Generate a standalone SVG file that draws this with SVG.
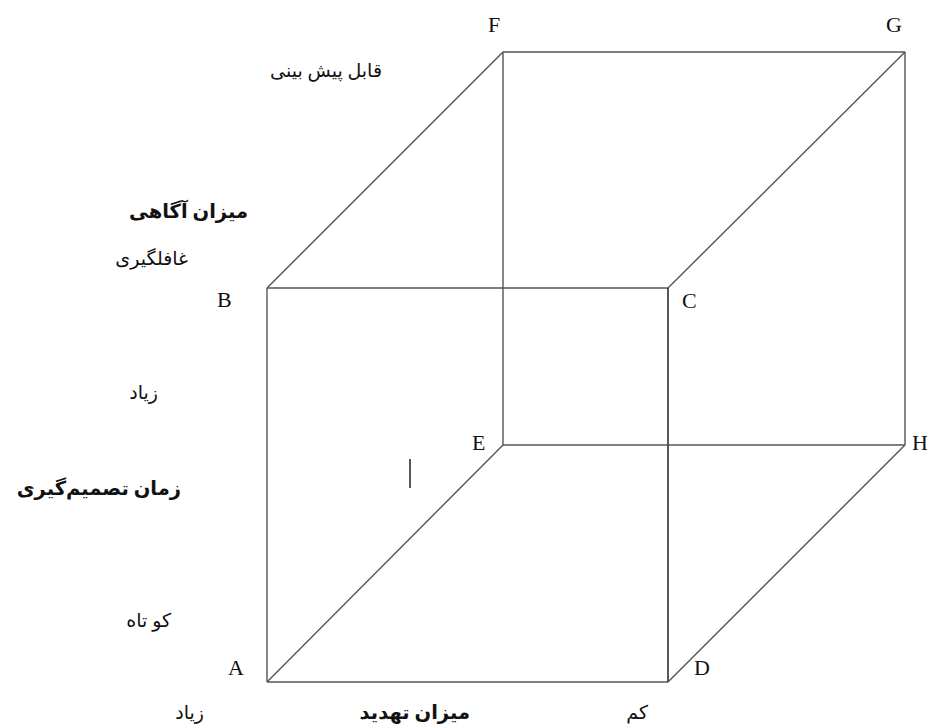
<svg xmlns="http://www.w3.org/2000/svg" width="936" height="725" viewBox="0 0 936 725">
<style>
.e{stroke:#555;stroke-width:1.4;fill:none}
.k{stroke:#111;stroke-width:1.4;fill:none}
.l{font-family:"Liberation Serif","Times New Roman",serif;font-size:22px;fill:#111}
.p{font-family:"Liberation Serif","DejaVu Sans","Noto Sans",serif;font-size:19px;fill:#111;text-anchor:end}
.b{font-weight:bold;font-size:19.5px}
</style>
<rect width="936" height="725" fill="#fff"/>
<g id="connectors">
<line class="e" x1="267" y1="682" x2="668" y2="682"/>
<line class="e" x1="267" y1="682" x2="267" y2="288"/>
<line class="e" x1="267" y1="288" x2="668" y2="288"/>
<line class="k" x1="668" y1="288" x2="668" y2="682"/>
<line class="e" x1="503" y1="445" x2="905" y2="445"/>
<line class="e" x1="503" y1="445" x2="503" y2="52"/>
<line class="e" x1="503" y1="52" x2="905" y2="52"/>
<line class="e" x1="905" y1="52" x2="905" y2="445"/>
<line class="e" x1="267" y1="682" x2="503" y2="445"/>
<line class="e" x1="267" y1="288" x2="503" y2="52"/>
<line class="e" x1="668" y1="288" x2="905" y2="52"/>
<line class="e" x1="668" y1="682" x2="905" y2="445"/>
<line class="k" x1="410" y1="459" x2="410" y2="488"/>
</g>
<g id="A"><text class="l" x="228" y="675">A</text></g>
<g id="B"><text class="l" x="217" y="307">B</text></g>
<g id="C"><text class="l" x="682" y="308">C</text></g>
<g id="D"><text class="l" x="694" y="675">D</text></g>
<g id="E"><text class="l" x="472" y="450">E</text></g>
<g id="F"><text class="l" x="488" y="32">F</text></g>
<g id="G"><text class="l" x="886" y="32">G</text></g>
<g id="H"><text class="l" x="912" y="450">H</text></g>
<g id="labels">
<text class="p" x="382" y="77">قابل پیش بینی</text>
<text class="p b" x="248" y="218">میزان آگاهی</text>
<text class="p" x="188" y="265">غافلگیری</text>
<text class="p" x="158" y="399">زیاد</text>
<text class="p b" x="181" y="495">زمان تصمیم‌گیری</text>
<text class="p" x="171" y="627">کو تاه</text>
<text class="p" x="204" y="719">زیاد</text>
<text class="p b" x="470" y="719">میزان تهدید</text>
<text class="p" x="648" y="719">کم</text>
</g>
</svg>
